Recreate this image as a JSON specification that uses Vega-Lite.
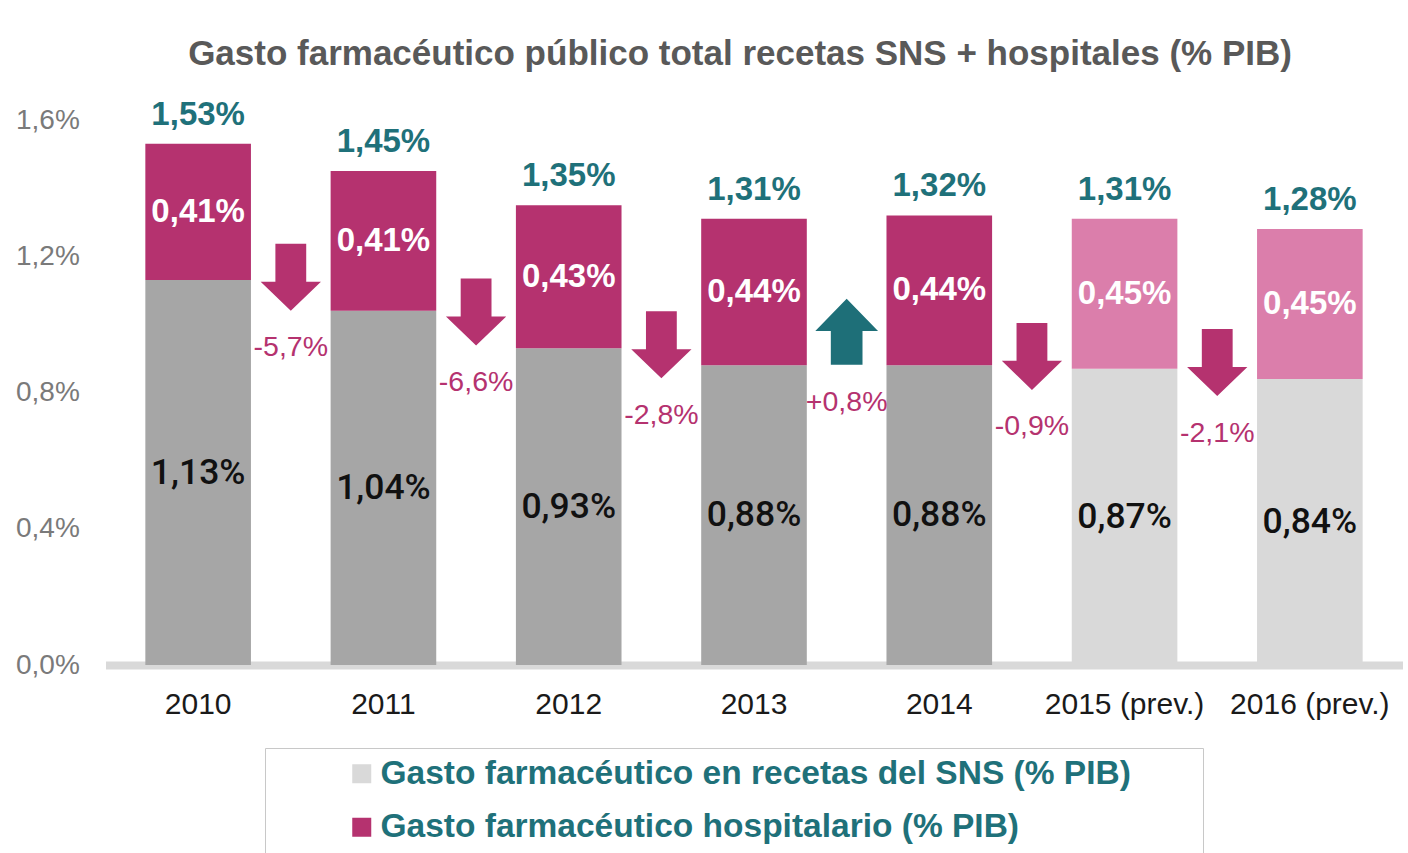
{
  "$schema": "https://vega.github.io/schema/vega-lite/v6.json",
  "width": 1297,
  "height": 545,
  "autosize": {"type": "none"},
  "padding": {"left": 105.5, "top": 120, "right": 5.5, "bottom": 188},
  "title": {
    "text": "Gasto farmacéutico público total recetas SNS + hospitales (% PIB)",
    "font": "Liberation Sans",
    "fontSize": 35,
    "fontWeight": "bold",
    "color": "#595959",
    "anchor": "middle",
    "frame": "group",
    "dx": -14,
    "offset": 27
  },
  "datasets": {
    "gasto": [
      {"anio": "2010", "grupo": "sns", "desde": 0, "hasta": 1.13, "valor": 1.13},
      {"anio": "2010", "grupo": "hosp", "desde": 1.13, "hasta": 1.53, "valor": 0.41},
      {"anio": "2011", "grupo": "sns", "desde": 0, "hasta": 1.04, "valor": 1.04},
      {"anio": "2011", "grupo": "hosp", "desde": 1.04, "hasta": 1.45, "valor": 0.41},
      {"anio": "2012", "grupo": "sns", "desde": 0, "hasta": 0.93, "valor": 0.93},
      {"anio": "2012", "grupo": "hosp", "desde": 0.93, "hasta": 1.35, "valor": 0.43},
      {"anio": "2013", "grupo": "sns", "desde": 0, "hasta": 0.88, "valor": 0.88},
      {"anio": "2013", "grupo": "hosp", "desde": 0.88, "hasta": 1.31, "valor": 0.44},
      {"anio": "2014", "grupo": "sns", "desde": 0, "hasta": 0.88, "valor": 0.88},
      {"anio": "2014", "grupo": "hosp", "desde": 0.88, "hasta": 1.32, "valor": 0.44},
      {"anio": "2015 (prev.)", "grupo": "sns_prev", "desde": 0, "hasta": 0.87, "valor": 0.87},
      {"anio": "2015 (prev.)", "grupo": "hosp_prev", "desde": 0.87, "hasta": 1.31, "valor": 0.45},
      {"anio": "2016 (prev.)", "grupo": "sns_prev", "desde": 0, "hasta": 0.84, "valor": 0.84},
      {"anio": "2016 (prev.)", "grupo": "hosp_prev", "desde": 0.84, "hasta": 1.28, "valor": 0.45}
    ],
    "variacion": [
      {"anio": "2011", "sentido": "baja", "nivel": 1.138, "texto": "-5,7%"},
      {"anio": "2012", "sentido": "baja", "nivel": 1.036, "texto": "-6,6%"},
      {"anio": "2013", "sentido": "baja", "nivel": 0.94, "texto": "-2,8%"},
      {"anio": "2014", "sentido": "sube", "nivel": 0.978, "texto": "+0,8%"},
      {"anio": "2015 (prev.)", "sentido": "baja", "nivel": 0.906, "texto": "-0,9%"},
      {"anio": "2016 (prev.)", "sentido": "baja", "nivel": 0.888, "texto": "-2,1%"}
    ]
  },
  "layer": [
    {
      "data": {"name": "gasto"},
      "mark": {"type": "bar"},
      "encoding": {
        "x": {"field": "anio", "type": "nominal", "sort": null, "title": null,
              "scale": {"domain": ["2010", "2011", "2012", "2013", "2014", "2015 (prev.)", "2016 (prev.)"], "paddingInner": 0.43, "paddingOuter": 0.215}},
        "y": {"field": "desde", "type": "quantitative", "title": null,
              "scale": {"domain": [0, 1.6], "nice": false, "zero": true},
              "axis": {"values": [0, 0.4, 0.8, 1.2, 1.6]}},
        "y2": {"field": "hasta"},
        "color": {
          "field": "grupo", "type": "nominal",
          "scale": {"domain": ["sns_prev", "hosp", "sns", "hosp_prev"], "range": ["#d9d9d9", "#b5326f", "#a6a6a6", "#db7eab"]},
          "legend": {
            "values": ["sns_prev", "hosp"],
            "title": null,
            "orient": "none",
            "legendX": 159.5,
            "legendY": 628,
            "direction": "vertical",
            "strokeColor": "#c8c8c8",
            "padding": 9,
            "symbolType": "square",
            "symbolSize": 361,
            "symbolStrokeWidth": 0,
            "symbolOffset": 71,
            "labelOffset": 2,
            "labelFont": "Liberation Sans",
            "labelFontSize": 33.5,
            "labelFontWeight": "bold",
            "labelColor": "#1f717a",
            "labelLimit": 1200,
            "rowPadding": 18.5,
            "labelExpr": "datum.value == 'hosp' ? 'Gasto farmacéutico hospitalario (% PIB)' : 'Gasto farmacéutico en recetas del SNS (% PIB)\u00a0\u00a0\u00a0\u00a0\u2800'"
          }
        }
      }
    },
    {
      "data": {"name": "gasto"},
      "transform": [
        {"filter": "indexof(datum.grupo, 'hosp') >= 0"},
        {"calculate": "replace(format(datum.hasta, '.2f'), '.', ',') + '%'", "as": "etiqueta"}
      ],
      "mark": {"type": "text", "font": "Liberation Sans", "fontSize": 33, "fontWeight": "bold", "color": "#1f717a", "baseline": "alphabetic", "dy": -19},
      "encoding": {
        "x": {"field": "anio", "type": "nominal", "sort": null, "title": null},
        "y": {"field": "hasta", "type": "quantitative", "title": null},
        "text": {"field": "etiqueta"}
      }
    },
    {
      "data": {"name": "gasto"},
      "transform": [
        {"filter": "indexof(datum.grupo, 'hosp') >= 0"},
        {"calculate": "(datum.desde + datum.hasta) / 2", "as": "medio"},
        {"calculate": "replace(format(datum.valor, '.2f'), '.', ',') + '%'", "as": "etiqueta"}
      ],
      "mark": {"type": "text", "font": "Liberation Sans", "fontSize": 33, "fontWeight": "bold", "color": "#ffffff", "baseline": "middle"},
      "encoding": {
        "x": {"field": "anio", "type": "nominal", "sort": null, "title": null},
        "y": {"field": "medio", "type": "quantitative", "title": null},
        "text": {"field": "etiqueta"}
      }
    },
    {
      "data": {"name": "gasto"},
      "transform": [
        {"filter": "indexof(datum.grupo, 'sns') >= 0"},
        {"calculate": "(datum.desde + datum.hasta) / 2", "as": "medio"},
        {"calculate": "replace(format(datum.valor, '.2f'), '.', ',') + '%'", "as": "etiqueta"}
      ],
      "mark": {"type": "text", "font": "Roboto", "fontSize": 35.5, "fontWeight": 500, "color": "#111111", "baseline": "middle"},
      "encoding": {
        "x": {"field": "anio", "type": "nominal", "sort": null, "title": null},
        "y": {"field": "medio", "type": "quantitative", "title": null},
        "text": {"field": "etiqueta"}
      }
    },
    {
      "data": {"name": "variacion"},
      "transform": [{"filter": "datum.sentido == 'baja'"}],
      "mark": {"type": "point", "filled": true, "opacity": 1, "color": "#b5326f", "strokeWidth": 0, "size": 4489,
               "shape": "M-0.46,-1L0.46,-1L0.46,0.13L0.9,0.13L0,1L-0.9,0.13L-0.46,0.13Z"},
      "encoding": {
        "x": {"field": "anio", "type": "nominal", "sort": null, "title": null, "bandPosition": -0.377},
        "y": {"field": "nivel", "type": "quantitative", "title": null}
      }
    },
    {
      "data": {"name": "variacion"},
      "transform": [{"filter": "datum.sentido == 'sube'"}],
      "mark": {"type": "point", "filled": true, "opacity": 1, "color": "#1e6f78", "strokeWidth": 0, "size": 4356,
               "shape": "M0,-1L0.95,-0.03L0.48,-0.03L0.48,1L-0.48,1L-0.48,-0.03L-0.95,-0.03Z"},
      "encoding": {
        "x": {"field": "anio", "type": "nominal", "sort": null, "title": null, "bandPosition": -0.377},
        "y": {"field": "nivel", "type": "quantitative", "title": null}
      }
    },
    {
      "data": {"name": "variacion"},
      "mark": {"type": "text", "font": "Liberation Sans", "fontSize": 28.5, "color": "#b5326f", "baseline": "middle", "dy": 70},
      "encoding": {
        "x": {"field": "anio", "type": "nominal", "sort": null, "title": null, "bandPosition": -0.377},
        "y": {"field": "nivel", "type": "quantitative", "title": null},
        "text": {"field": "texto"}
      }
    }
  ],
  "config": {
    "view": {"stroke": null},
    "axisX": {
      "labelAngle": 0,
      "ticks": false,
      "tickSize": 0,
      "domainColor": "#d9d9d9",
      "domainWidth": 8,
      "labelFont": "Liberation Sans",
      "labelFontSize": 30,
      "labelColor": "#1a1a1a",
      "labelPadding": 24
    },
    "axisY": {
      "labelExpr": "replace(format(datum.value, '.1f'), '.', ',') + '%'",
      "domain": false,
      "ticks": false,
      "tickSize": 0,
      "grid": false,
      "labelAlign": "left",
      "labelPadding": 90,
      "labelFont": "Liberation Sans",
      "labelFontSize": 28,
      "labelColor": "#7a7a7a"
    }
  }
}
